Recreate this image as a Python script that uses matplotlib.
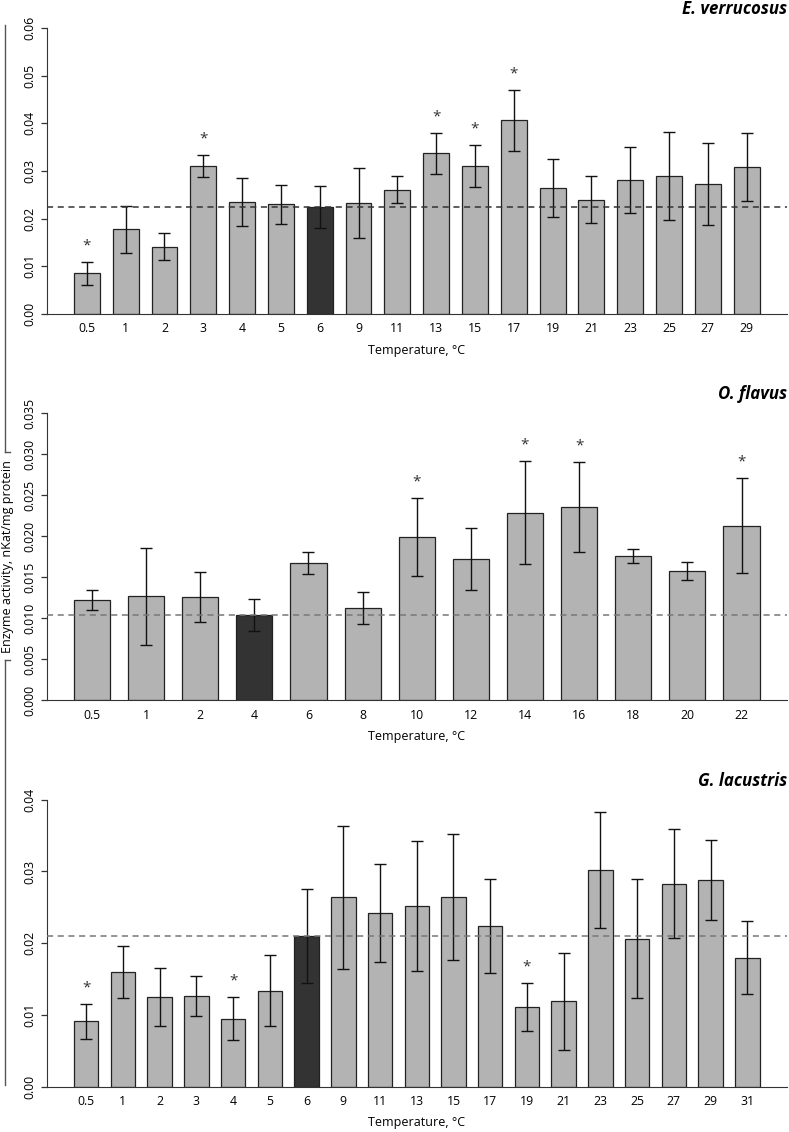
import matplotlib
matplotlib.use("Agg")
import matplotlib.pyplot as plt
import numpy as np

plt.rcParams['font.family'] = ['Open Sans', 'DejaVu Sans']

# E. verrucosus
ev_temps = ['0.5', '1', '2', '3', '4', '5', '6', '9', '11', '13', '15', '17', '19', '21', '23', '25', '27', '29']
ev_mean = [0.0085, 0.0178, 0.0141, 0.0310, 0.0235, 0.0230, 0.0224, 0.0233, 0.0261, 0.0337,
           0.0311, 0.0406, 0.0264, 0.0240, 0.0281, 0.0290, 0.0273, 0.0308]
ev_err = [0.0025, 0.0049, 0.0028, 0.0023, 0.0050, 0.0041, 0.0044, 0.0074, 0.0029, 0.0043,
          0.0044, 0.0063, 0.0061, 0.0049, 0.0070, 0.0092, 0.0086, 0.0071]
ev_stars = ['0.5', '3', '13', '15', '17']
ev_control = '6'

# O. flavus
of_temps = ['0.5', '1', '2', '4', '6', '8', '10', '12', '14', '16', '18', '20', '22']
of_mean = [0.0122, 0.0127, 0.0126, 0.0104, 0.0167, 0.0112, 0.0199, 0.0172, 0.0229, 0.0236,
           0.0176, 0.0158, 0.0213]
of_err = [0.00124, 0.0059, 0.0030, 0.0019, 0.00134, 0.00195, 0.00475, 0.00376, 0.00626,
          0.00547, 0.00081, 0.0011, 0.00583]
of_stars = ['10', '14', '16', '22']
of_control = '4'

# G. lacustris
gl_temps = ['0.5', '1', '2', '3', '4', '5', '6', '9', '11', '13', '15', '17', '19', '21', '23', '25', '27', '29', '31']
gl_mean = [0.0091, 0.0160, 0.0125, 0.0126, 0.0095, 0.0134, 0.0210, 0.0264, 0.0242, 0.0252,
           0.0264, 0.0224, 0.0111, 0.0119, 0.0302, 0.0206, 0.0283, 0.0288, 0.0180]
gl_err = [0.0024, 0.0036, 0.0040, 0.0028, 0.0030, 0.0050, 0.0066, 0.0100, 0.0068, 0.0091,
          0.0088, 0.0066, 0.0034, 0.0068, 0.0081, 0.0083, 0.0076, 0.0056, 0.0051]
gl_stars = ['0.5', '4', '19']
gl_control = '6'

W, H = 789, 1132
fig = plt.figure(figsize=(W / 100, H / 100), dpi=100)


def panel(rect, temps, mean, err, stars, control, ymax, ystep, fmt, title, dash_col):
    ax = fig.add_axes(rect)
    n = len(temps)
    # R barplot style positions (width 1, space 0.5)
    x = 1 + 1.5 * np.arange(n)
    cols = ['#333333' if t == control else '#b3b3b3' for t in temps]
    ax.bar(x, mean, width=1, color=cols, edgecolor='#222222', linewidth=0.9, zorder=2)
    ax.errorbar(x, mean, yerr=err, fmt='none', ecolor='#111111', elinewidth=1,
                capsize=4, capthick=1, zorder=3)
    ref = mean[temps.index(control)]
    ax.axhline(ref, color=dash_col, lw=1.1, ls=(0, (4, 3)), zorder=4)
    for t in stars:
        i = temps.index(t)
        ax.annotate('*', (x[i], mean[i] + err[i]), xytext=(0, 9), textcoords='offset points',
                    ha='center', va='baseline', fontsize=11, color='#333333')
    L = 1.5 * n - 0.5
    ax.set_xlim(0.5 - 0.04 * L, 1.5 * n + 0.04 * L)
    ax.set_ylim(0, ymax)
    ax.set_xticks(x)
    ax.set_xticklabels(temps, fontsize=8.8)
    ax.tick_params(axis='x', length=0, pad=6)
    ticks = np.arange(0, ymax + ystep / 2, ystep)
    ax.set_yticks(ticks)
    ax.set_yticklabels([fmt % v for v in ticks], rotation=90, va='center', fontsize=8.8)
    ax.tick_params(axis='y', length=4.5, width=0.9, pad=3, color='#333333')
    for s in ['top', 'right']:
        ax.spines[s].set_visible(False)
    ax.spines['left'].set_color('#333333')
    ax.spines['bottom'].set_color('#333333')
    ax.set_xlabel('Temperature, °C', fontsize=9, labelpad=6)
    ax.set_title(title, loc='right', fontsize=12.2, fontweight='bold', style='italic', pad=10)
    return ax


left = 46.5 / W
width = 740.5 / W
panel([left, 1 - 314 / H, width, 286 / H], ev_temps, ev_mean, ev_err, ev_stars, ev_control,
      0.06, 0.01, '%.2f', 'E. verrucosus', '#333333')
panel([left, 1 - 700.3 / H, width, 287 / H], of_temps, of_mean, of_err, of_stars, of_control,
      0.035, 0.005, '%.3f', 'O. flavus', '#777777')
panel([left, 1 - 1086.7 / H, width, 287 / H], gl_temps, gl_mean, gl_err, gl_stars, gl_control,
      0.04, 0.01, '%.2f', 'G. lacustris', '#777777')

# shared y label with the side line around it
lx = 4.5 / W
fig.add_artist(plt.Line2D([lx, lx], [1 - 25 / H, 1 - 452 / H], color='#555555', lw=1))
fig.add_artist(plt.Line2D([lx, lx], [1 - 660 / H, 1 - 1085 / H], color='#555555', lw=1))
fig.add_artist(plt.Line2D([lx, 10 / W], [1 - 452 / H, 1 - 452 / H], color='#555555', lw=1))
fig.add_artist(plt.Line2D([lx, 10 / W], [1 - 660 / H, 1 - 660 / H], color='#555555', lw=1))
fig.text(7.5 / W, 1 - 557 / H, 'Enzyme activity, nKat/mg protein', rotation=90,
         ha='center', va='center', fontsize=9)

fig.savefig('out.png', dpi=100)
